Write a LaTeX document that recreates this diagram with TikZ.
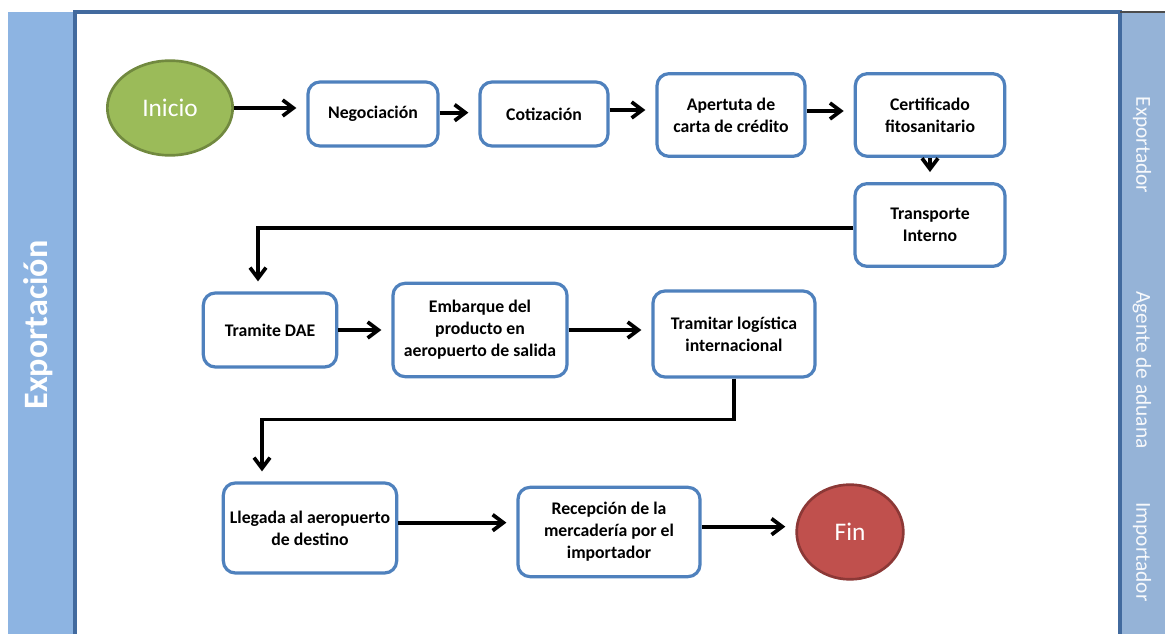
\documentclass[tikz,border=0pt]{standalone}
\usepackage{fontspec}
\setmainfont{Carlito}
\usepackage{xcolor}
\usepackage{tikz}
\usetikzlibrary{arrows.meta,calc,positioning,shapes.geometric}

\definecolor{laneblue}{HTML}{8DB4E2}
\definecolor{sideblue}{HTML}{95B3D7}
\definecolor{frameblue}{HTML}{426A9E}
\definecolor{boxblue}{HTML}{4F81BD}
\definecolor{startgreen}{HTML}{9BBB59}
\definecolor{startgreenD}{HTML}{71893F}
\definecolor{endred}{HTML}{C0504D}
\definecolor{endredD}{HTML}{8C3836}

\begin{document}
\begin{tikzpicture}[x=0.75pt,y=-0.75pt,>={Straight Barb[length=8pt,width=12pt]},
  proc/.style={draw=boxblue,line width=2.4pt,rounded corners=9pt,fill=white,align=center,
    font=\fontsize{13.3}{16.5}\selectfont\bfseries,inner sep=2pt},
  term/.style={ellipse,line width=2pt,text=white,inner sep=0pt,
    font=\fontsize{19}{22}\selectfont},
  flow/.style={->,line width=2.8pt,shorten >=7.5pt},
  lane/.style={text=white!92!sideblue,font=\fontsize{16}{18}\selectfont}]
  \useasboundingbox (0,0) rectangle (1165,634);
  % lanes and frame
  \fill[laneblue] (8,12) rectangle (75,634);
  \fill[sideblue] (1120,12) rectangle (1165,634);
  \draw[frameblue,line width=2.4pt] (75,640) -- (75,12) -- (1120,12) -- (1120,640);
  \draw[black!70,line width=0.8pt] (1120,12) -- (1165,12);
  \node[rotate=90,text=white,font=\fontsize{25.6}{28}\selectfont\bfseries] (pool) at (38,325) {Exportación};
  \node[rotate=-90,lane] (exp) at (1142,145) {Exportador};
  \node[rotate=-90,lane] (age) at (1142,370) {Agente de aduana};
  \node[rotate=-90,lane] (imp) at (1142,552) {Importador};
  % steps
  \node[term,fill=startgreen,draw=startgreenD,minimum width=94pt,minimum height=71pt] (ini) at (170,108) {Inicio};
  \node[proc,minimum width=97.5pt,minimum height=48pt] (neg) at (373,114) {Negociación};
  \node[proc,minimum width=96pt,minimum height=48pt] (cot) at (544,114) {Cotización};
  \node[proc,minimum width=111pt,minimum height=62pt] (ape) at (731,115) {Apertuta de\\carta de crédito};
  \node[proc,minimum width=112pt,minimum height=62pt] (cer) at (930,115) {Certificado\\fitosanitario};
  \node[proc,minimum width=112.5pt,minimum height=62pt] (tra) at (930,225) {Transporte\\Interno};
  \node[proc,minimum width=100pt,minimum height=55.5pt] (dae) at (270,330) {Tramite DAE};
  \node[proc,minimum width=130.5pt,minimum height=70pt] (emb) at (480,330) {Embarque del\\producto en\\aeropuerto de salida};
  \node[proc,minimum width=121.5pt,minimum height=64.5pt] (log) at (734,334) {Tramitar logística\\internacional};
  \node[proc,minimum width=130pt,minimum height=67.5pt] (lle) at (310,528) {Llegada al aeropuerto\\de destino};
  \node[proc,minimum width=136.5pt,minimum height=67pt] (rec) at (609,532) {Recepción de la\\mercadería por el\\importador};
  \node[term,fill=endred,draw=endredD,minimum width=80pt,minimum height=71pt] (fin) at (850,532) {Fin};
  % connectors
  \draw[flow] (ini.east) -- (ini.east -| neg.west);
  \draw[flow] ([yshift=1pt]neg.east) -- ([yshift=1pt]cot.west);
  \draw[flow] ([yshift=3pt]cot.east) -- ([yshift=3pt]cot.east -| ape.west);
  \draw[flow] ([yshift=3pt]ape.east) -- ([yshift=3pt]cer.west);
  \draw[flow] (cer) -- (tra);
  \draw[flow] ([yshift=-2pt]tra.west) -| ([xshift=-9pt]dae.north);
  \draw[flow] (dae) -- (emb);
  \draw[flow] (emb) -- (emb -| log.west);
  \draw[flow] (log.south) -- ++(0,41) -| ([xshift=-36pt]lle.north);
  \draw[flow] ([yshift=4pt]lle.east) -- ([yshift=4pt]lle.east -| rec.west);
  \draw[flow] ([yshift=4pt]rec.east) -- ([yshift=4pt]rec.east -| fin.west);
\end{tikzpicture}
\end{document}
